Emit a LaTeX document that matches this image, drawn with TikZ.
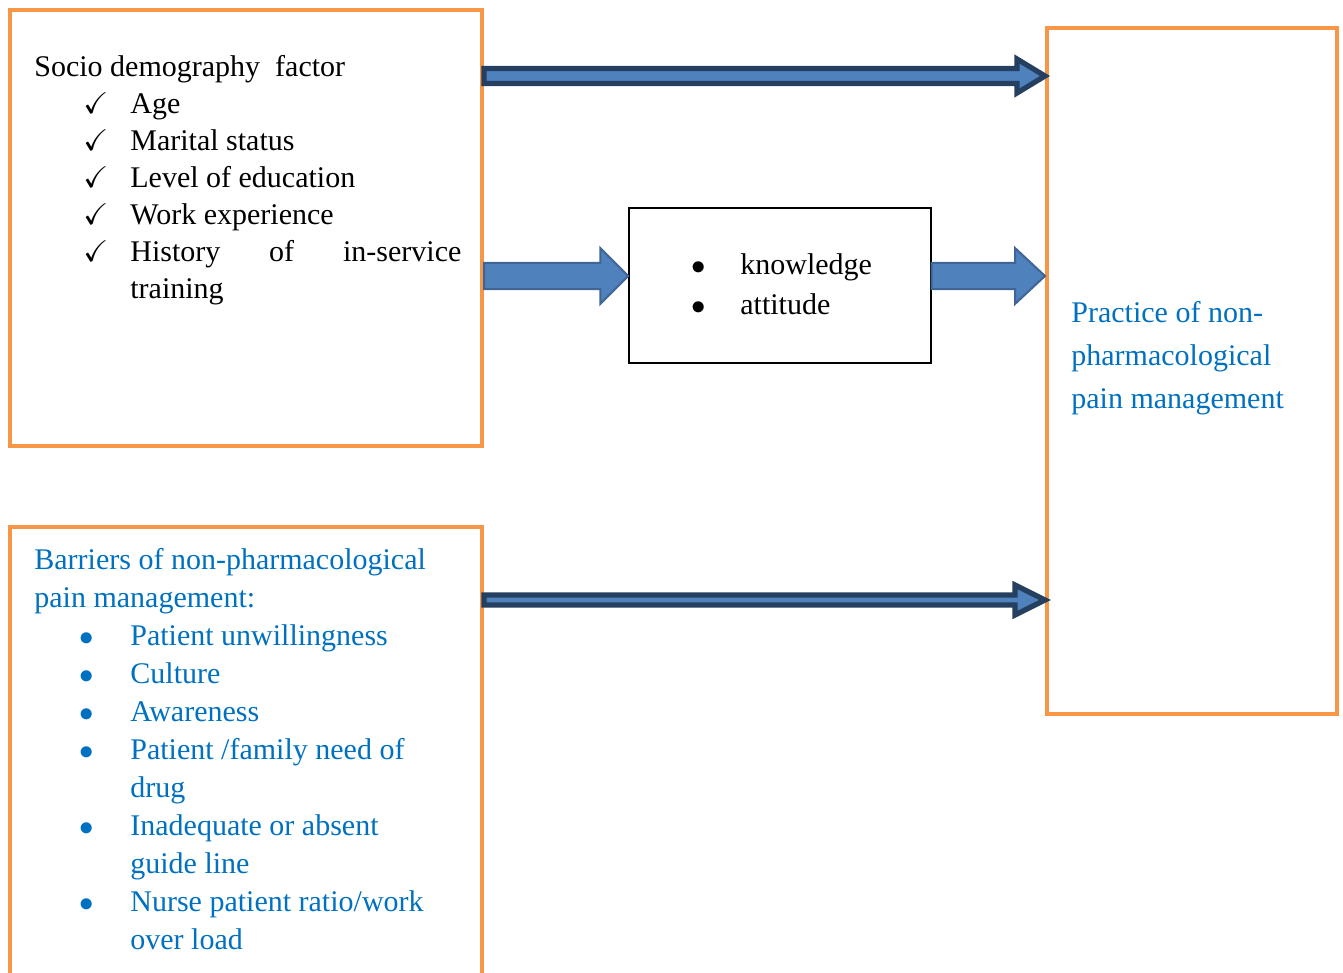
\documentclass[tikz,border=0pt]{standalone}
\usepackage{fontspec}
\usepackage{amssymb}
\setmainfont{Liberation Serif}
\usetikzlibrary{calc}

\definecolor{boxorange}{HTML}{F79646}
\definecolor{textblue}{HTML}{0070C0}
\definecolor{arrowfill}{HTML}{4F81BD}
\definecolor{arrowline}{HTML}{3F6496}
\definecolor{arrowdark}{HTML}{243F60}

\tikzset{
  obox/.style={draw=boxorange, line width=2pt, inner sep=0pt},
  kbox/.style={draw=black, line width=0.7pt, inner sep=0pt},
  txt/.style={anchor=north west, inner sep=0pt, align=left,
    font=\fontsize{15pt}{18.5pt}\selectfont},
  thinarrow/.style={fill=arrowfill, draw=arrowline, line width=1pt},
  longarrow/.style={fill=arrowfill, draw=arrowdark, line width=2.6pt}
}

% block arrow: style, from, to, shaft half, head half, head length
\newcommand\blockarrow[6][]{%
  \draw[#1] ($(#2)+(0,#4)$) -- ($(#3)+(-#6,#4)$) -- ($(#3)+(-#6,#5)$) -- (#3)
    -- ($(#3)+(-#6,-#5)$) -- ($(#3)+(-#6,-#4)$) -- ($(#2)+(0,-#4)$) -- cycle;}
\newcommand\bigdot{$\bullet$}
\newcommand\chk{\hspace*{24.5pt}\makebox[23.5pt][l]{\checkmark}}
\newcommand\dotitem{\hspace*{22.5pt}\makebox[25.5pt][l]{\bigdot}}
\newcommand\goon{\hspace*{48pt}}

\begin{document}
\begin{tikzpicture}[x=0.5pt,y=-0.5pt]
  \useasboundingbox (0,0) rectangle (1343,973);
  \clip (0,0) rectangle (1343,973);

  % boxes
  \node[obox, minimum width=236pt, minimum height=218pt] (socio) at (246,228) {};
  \node[obox, minimum width=236pt, minimum height=300pt] (barrier) at (246,827) {};
  \node[kbox, minimum width=151pt, minimum height=77.5pt] (kap) at (780,285.5) {};
  \node[obox, minimum width=145pt, minimum height=343pt] (practice) at (1192,371) {};

  % texts
  \node[txt] (sociotext) at (34,55) {Socio demography\ \ factor\\
    \chk Age\\
    \chk Marital status\\
    \chk Level of education\\
    \chk Work experience\\
    \chk\makebox[165.5pt][s]{History\hfill of\hfill in-service}\\
    \goon training};
  \node[txt, text=textblue, font=\fontsize{15pt}{19pt}\selectfont] (barriertext) at (34,548)
    {Barriers of non-pharmacological\\
    pain management:\\
    \dotitem Patient unwillingness\\
    \dotitem Culture\\
    \dotitem Awareness\\
    \dotitem Patient /family need of\\
    \goon drug\\
    \dotitem Inadequate or absent\\
    \goon guide line\\
    \dotitem Nurse patient ratio/work\\
    \goon over load};
  \node[txt, font=\fontsize{15pt}{20pt}\selectfont] (kaptext) at (691,253)
    {\makebox[24.5pt][l]{\bigdot}knowledge\\
    \makebox[24.5pt][l]{\bigdot}attitude};
  \node[txt, text=textblue, font=\fontsize{15pt}{21.5pt}\selectfont] (practicetext) at (1071,301)
    {Practice of non-\\
    pharmacological\\
    pain management};

  % arrows
  \coordinate (a1s) at (socio.east |- 0,76);
  \coordinate (a1e) at (practice.west |- a1s);
  \coordinate (a2s) at (socio.east |- 0,276);
  \coordinate (a2e) at (kap.west |- a2s);
  \coordinate (a3s) at (kap.east |- a2s);
  \coordinate (a3e) at (practice.west |- a2s);
  \coordinate (a4s) at (barrier.east |- 0,600);
  \coordinate (a4e) at (practice.west |- a4s);
  \blockarrow[longarrow]{a1s}{a1e}{7.5}{17}{28}
  \blockarrow[thinarrow]{a2s}{a2e}{13}{28}{28}
  \blockarrow[thinarrow]{a3s}{a3e}{13}{28}{30}
  \blockarrow[longarrow]{a4s}{a4e}{5}{15}{30}
\end{tikzpicture}
\end{document}
